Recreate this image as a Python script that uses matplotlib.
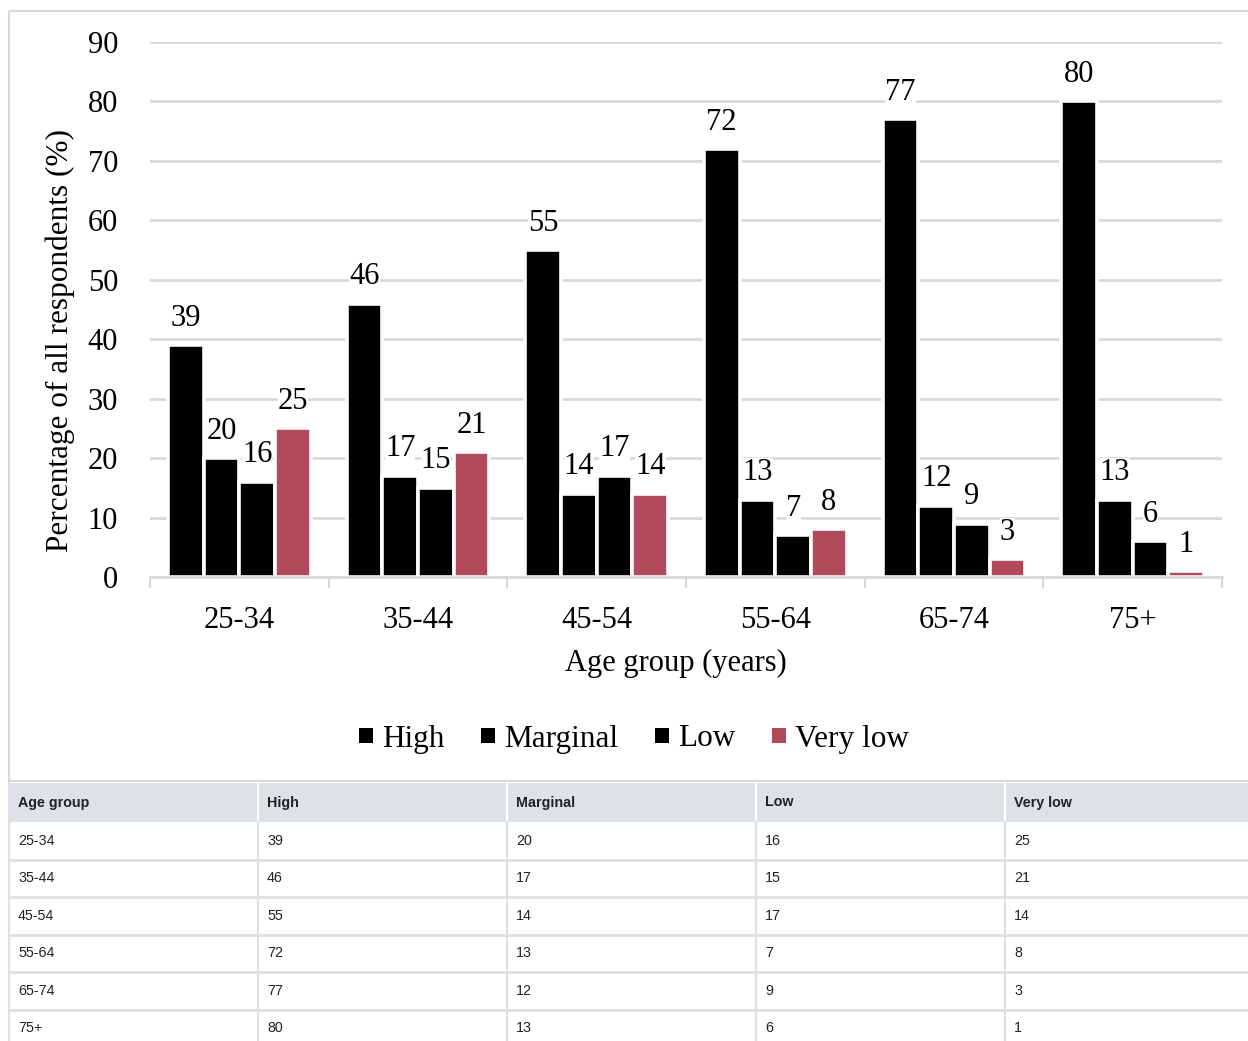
import matplotlib.pyplot as plt
from matplotlib.patches import Rectangle, Patch

age_groups = ['25-34', '35-44', '45-54', '55-64', '65-74', '75+']
high = [39, 46, 55, 72, 77, 80]
marginal = [20, 17, 14, 13, 12, 13]
low = [16, 15, 17, 7, 9, 6]
very_low = [25, 21, 14, 8, 3, 1]

series_names = ['High', 'Marginal', 'Low', 'Very low']
series_values = [high, marginal, low, very_low]
series_colors = ['black', 'black', 'black', '#B14B5B']

W, H = 1248, 1041
grid_color = '#D9D9D9'
serif = ['Liberation Serif', 'DejaVu Serif']
sans = ['Liberation Sans', 'DejaVu Sans']


def px(x0, y0, x1, y1):
    # pixel box (top-left origin) -> figure fraction rect
    return [x0 / W, 1 - y1 / H, (x1 - x0) / W, (y1 - y0) / H]


fig = plt.figure(figsize=(W / 100, H / 100), dpi=100)

# outer frame of the chart area
frame = fig.add_axes([0, 0, 1, 1], zorder=0)
frame.set_xlim(0, W)
frame.set_ylim(H, 0)
frame.axis('off')
frame.add_patch(Rectangle((9, 11), 1300, 770, fill=False, edgecolor=grid_color, lw=1.5))

ax = fig.add_axes(px(150, 42, 1222, 577), zorder=1)
ax.patch.set_alpha(0)
n = len(age_groups)
width = 0.2
for i, (name, vals, col) in enumerate(zip(series_names, series_values, series_colors)):
    xs = [k - 0.3 + i * width for k in range(n)]
    bars = ax.bar(xs, vals, width=width, color=col, edgecolor='white', linewidth=2.6,
                  label=name, zorder=2)
    labels = ax.bar_label(bars, padding=9, fontsize=22, family=serif, zorder=3)
    for t in labels:
        t.set_bbox(dict(facecolor='white', edgecolor='none', pad=0))

ax.set_ylim(0, 90)
ax.set_xlim(-0.5, n - 0.5)
ax.set_yticks(range(0, 91, 10))
ax.yaxis.grid(True, color=grid_color, lw=2, zorder=0)
ax.set_axisbelow(True)
for s in ['top', 'right', 'left']:
    ax.spines[s].set_visible(False)
ax.spines['bottom'].set_color(grid_color)
ax.spines['bottom'].set_linewidth(2)
ax.set_xticks(range(n))
ax.set_xticklabels(age_groups)
ax.set_xticks([k - 0.5 for k in range(n + 1)], minor=True)
ax.tick_params(axis='x', which='major', length=0, pad=21, labelsize=22)
ax.tick_params(axis='x', which='minor', length=8, width=1.5, color=grid_color)
ax.tick_params(axis='y', length=0, pad=23, labelsize=22)
for t in ax.get_xticklabels() + ax.get_yticklabels():
    t.set_family(serif)
ax.set_xlabel('Age group (years)', fontsize=22, family=serif)
ax.set_ylabel('Percentage of all respondents (%)', fontsize=22.5, family=serif)
# label centres in axes fraction
ax.xaxis.set_label_coords((676 - 150) / 1072, -(663 - 577) / 535)
ax.yaxis.set_label_coords(-(150 - 60) / 1072, (577 - 341) / 535)
ax.xaxis.label.set_va('center')
ax.yaxis.label.set_va('center')

handles = [Patch(facecolor=c, edgecolor='none') for c in series_colors]
fig.legend(handles, series_names, loc='center', bbox_to_anchor=(634 / W, 1 - 739 / H),
           ncol=4, frameon=False, handlelength=0.46, handleheight=0.34, handletextpad=0.3,
           columnspacing=1.15, prop={'family': serif, 'size': 22.5})

# data table under the chart
tab = fig.add_axes(px(0, 781, W, H), zorder=2)
tab.set_xlim(0, W)
tab.set_ylim(H, 781)
tab.axis('off')
col_w = 249
col_x = [9 + col_w * c for c in range(5)]
header = ['Age group'] + series_names
head_top, head_bot = 783, 822
row_h = 37.5
line_col = '#DDE0E3'

tab.add_patch(Rectangle((9, head_top), W, head_bot - head_top, color='#DEE1E5', lw=0))
for c, x in enumerate(col_x):
    tab.text(x + 9, (head_top + head_bot) / 2, header[c], fontsize=10.3, fontweight='bold',
             family=sans, color='#222222', va='center', ha='left')
    if c > 0:
        tab.plot([x, x], [head_top, head_bot], color='white', lw=1.5)
        tab.plot([x, x], [head_bot, H], color=line_col, lw=1.5)
tab.plot([9, 9], [head_top, H], color=line_col, lw=1.5)

for r, grp in enumerate(age_groups):
    y0 = head_bot + r * row_h
    cells = [grp] + [str(v[r]) for v in series_values]
    for c, x in enumerate(col_x):
        tab.text(x + 9, y0 + row_h / 2, cells[c], fontsize=10.3, family=sans,
                 color='#222222', va='center', ha='left')
    tab.plot([9, W], [y0 + row_h, y0 + row_h], color=line_col, lw=2)

fig.savefig('out.png', dpi=100)
